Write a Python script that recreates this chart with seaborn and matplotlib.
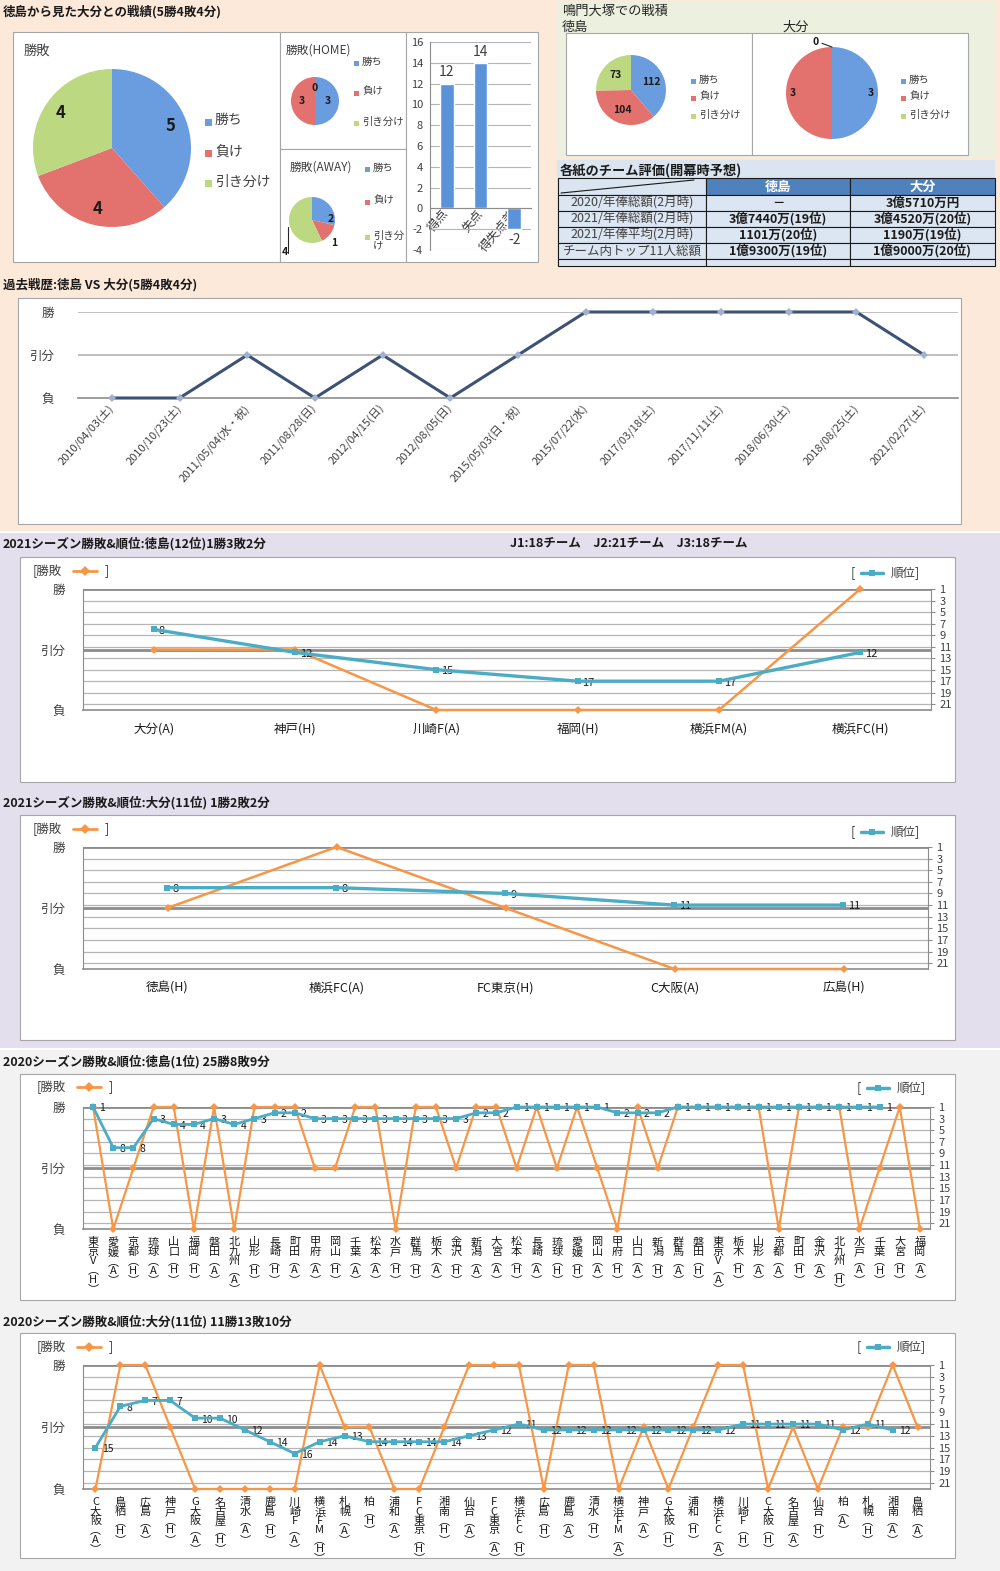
import numpy as np
import matplotlib
matplotlib.use("Agg")
import matplotlib.pyplot as plt
from matplotlib.patches import Rectangle
import seaborn as sns

sns.set_style("white")
plt.rcParams['font.family'] = ['Noto Sans CJK JP', 'DejaVu Sans']
plt.rcParams['axes.unicode_minus'] = False

W, H = 1000, 1571

# ---------------- data ----------------
RESULT_NAMES = ["勝ち", "負け", "引き分け"]
VS_TOTAL = [5, 4, 4]
VS_HOME = [3, 3, 0]
VS_AWAY = [2, 1, 4]

GOAL_NAMES = ["得点", "失点", "得失点差"]
GOAL_VALUES = [12, 14, -2]

NARUTO_TOKUSHIMA = [112, 104, 73]
NARUTO_OITA = [3, 3, 0]

EVAL_COLS = ["徳島", "大分"]
EVAL_ROWS = ["2020/年俸総額(2月時)", "2021/年俸総額(2月時)",
             "2021/年俸平均(2月時)", "チーム内トップ11人総額", ""]
EVAL_TOKUSHIMA = ["－", "3億7440万(19位)", "1101万(20位)", "1億9300万(19位)", ""]
EVAL_OITA = ["3億5710万円", "3億4520万(20位)", "1190万(19位)", "1億9000万(20位)", ""]

LEVELS = ["負", "引分", "勝"]          # 0 = 負, 1 = 引分, 2 = 勝

HISTORY_DATES = ["2010/04/03(土)", "2010/10/23(土)", "2011/05/04(水・祝)", "2011/08/28(日)",
                 "2012/04/15(日)", "2012/08/05(日)", "2015/05/03(日・祝)", "2015/07/22(水)",
                 "2017/03/18(土)", "2017/11/11(土)", "2018/06/30(土)", "2018/08/25(土)",
                 "2021/02/27(土)"]
HISTORY_RESULTS = [0, 0, 1, 0, 1, 0, 1, 2, 2, 2, 2, 2, 1]

T21_OPP = ["大分(A)", "神戸(H)", "川崎F(A)", "福岡(H)", "横浜FM(A)", "横浜FC(H)"]
T21_RES = [1, 1, 0, 0, 0, 2]
T21_RANK = [8, 12, 15, 17, 17, 12]

O21_OPP = ["徳島(H)", "横浜FC(A)", "FC東京(H)", "C大阪(A)", "広島(H)"]
O21_RES = [1, 2, 1, 0, 0]
O21_RANK = [8, 8, 9, 11, 11]

T20_OPP = ["東京V(H)", "愛媛(A)", "京都(H)", "琉球(A)", "山口(H)", "福岡(H)", "磐田(A)",
           "北九州(A)", "山形(H)", "長崎(H)", "町田(A)", "甲府(A)", "岡山(H)", "千葉(A)",
           "松本(A)", "水戸(H)", "群馬(H)", "栃木(A)", "金沢(H)", "新潟(A)", "大宮(A)",
           "松本(H)", "長崎(A)", "琉球(H)", "愛媛(H)", "岡山(A)", "甲府(H)", "山口(A)",
           "新潟(H)", "群馬(A)", "磐田(H)", "東京V(A)", "栃木(H)", "山形(A)", "京都(A)",
           "町田(H)", "金沢(A)", "北九州(H)", "水戸(A)", "千葉(H)", "大宮(H)", "福岡(A)"]
T20_RES = [2, 0, 1, 2, 2, 0, 2, 0, 2, 2, 2, 1, 1, 2, 2, 0, 2, 2, 1, 2, 2,
           1, 2, 1, 2, 1, 0, 2, 1, 2, 2, 2, 2, 2, 0, 2, 2, 2, 0, 1, 2, 0]
T20_RANK = [1, 8, 8, 3, 4, 4, 3, 4, 3, 2, 2, 3, 3, 3, 3, 3, 3, 3, 3, 2, 2,
            1, 1, 1, 1, 1, 2, 2, 2, 1, 1, 1, 1, 1, 1, 1, 1, 1, 1, 1, np.nan, np.nan]

O20_OPP = ["C大阪(A)", "鳥栖(H)", "広島(A)", "神戸(H)", "G大阪(A)", "名古屋(H)", "清水(A)",
           "鹿島(H)", "川崎F(A)", "横浜FM(H)", "札幌(A)", "柏(H)", "浦和(A)", "FC東京(H)",
           "湘南(H)", "仙台(A)", "FC東京(A)", "横浜FC(H)", "広島(H)", "鹿島(A)", "清水(H)",
           "横浜FM(A)", "神戸(A)", "G大阪(H)", "浦和(H)", "横浜FC(A)", "川崎F(H)", "C大阪(H)",
           "名古屋(A)", "仙台(H)", "柏(A)", "札幌(H)", "湘南(A)", "鳥栖(A)"]
O20_RES = [0, 2, 2, 1, 0, 0, 0, 0, 0, 2, 1, 1, 0, 0, 1, 2, 2,
           2, 0, 2, 2, 0, 1, 0, 1, 2, 2, 0, 1, 0, 1, 1, 2, 1]
O20_RANK = [15, 8, 7, 7, 10, 10, 12, 14, 16, 14, 13, 14, 14, 14, 14, 13, 12,
            11, 12, 12, 12, 12, 12, 12, 12, 12, 11, 11, 11, 11, 12, 11, 12, np.nan]

# ---------------- style ----------------
PIE_COLORS = ['#6a9ddf', '#e3716e', '#bcd880']
ORANGE = '#f79646'
BLUE = '#4bacc6'
GRID = '#b5b5b5'
DARK = '#8c8c8c'
TXT = '#404040'
RANK_TICKS = list(range(1, 22, 2))


def frac(x0, y0, x1, y1):
    return [x0 / W, 1 - y1 / H, (x1 - x0) / W, (y1 - y0) / H]


fig = plt.figure(figsize=(W / 100, H / 100), dpi=100)
base = fig.add_axes([0, 0, 1, 1])
base.set_xlim(0, W)
base.set_ylim(H, 0)
base.axis('off')

for x0, y0, x1, y1, c in [(0, 0, 1000, 531, '#fde9d9'), (557, 2, 995, 157, '#ebf1de'),
                          (557, 160, 995, 266, '#dbe5f1'), (0, 533, 1000, 1048, '#e4dfec'),
                          (0, 1050, 1000, 1571, '#f2f2f2')]:
    base.add_patch(Rectangle((x0, y0), x1 - x0, y1 - y0, facecolor=c, edgecolor='none'))

for x0, y0, x1, y1 in [(13, 32, 280, 262), (280, 32, 406, 149), (280, 149, 406, 262),
                       (406, 32, 538, 262), (566, 33, 752, 155), (752, 33, 968, 155),
                       (18, 298, 961, 524), (20, 557, 955, 782), (20, 815, 955, 1040),
                       (20, 1074, 955, 1300), (20, 1333, 955, 1558)]:
    base.add_patch(Rectangle((x0, y0), x1 - x0, y1 - y0, facecolor='white',
                             edgecolor='#a6a6a6', lw=0.8))

# section titles
for x, y, s in [(3, 12, "徳島から見た大分との戦績(5勝4敗4分)"),
                (3, 285, "過去戦歴:徳島 VS 大分(5勝4敗4分)"),
                (3, 544, "2021シーズン勝敗&順位:徳島(12位)1勝3敗2分"),
                (510, 544, "J1:18チーム　J2:21チーム　J3:18チーム"),
                (3, 803, "2021シーズン勝敗&順位:大分(11位) 1勝2敗2分"),
                (3, 1062, "2020シーズン勝敗&順位:徳島(1位) 25勝8敗9分"),
                (3, 1322, "2020シーズン勝敗&順位:大分(11位) 11勝13敗10分"),
                (560, 171, "各紙のチーム評価(開幕時予想)")]:
    base.text(x, y, s, fontsize=9.5 if y == 171 else 9, fontweight='bold', va='center', color='#1a1a1a')

for x, y, s in [(562, 11, "鳴門大塚での戦積"), (562, 27, "徳島"), (782, 27, "大分")]:
    base.text(x, y, s, fontsize=9.5, va='center', color='#262626')

for x, y, s, fs in [(24, 51, "勝敗", 9.5), (286, 50, "勝敗(HOME)", 8.5), (290, 167, "勝敗(AWAY)", 8.5)]:
    base.text(x, y, s, fontsize=fs, va='center', color=TXT)


# ---------------- pies ----------------
def draw_pie(cx, cy, r, values, dist, fs, span=1.0, label_xy=None):
    ax = fig.add_axes(frac(cx - r * span, cy - r * span, cx + r * span, cy + r * span))
    wedges, _ = ax.pie(values, colors=PIE_COLORS, startangle=90, counterclock=False,
                       wedgeprops=dict(linewidth=0))
    ax.set_xlim(-span, span)
    ax.set_ylim(-span, span)
    ax.set_aspect('equal')
    ax.axis('off')
    for i, (w, v) in enumerate(zip(wedges, values)):
        if label_xy is not None and label_xy[i] is not None:
            tx, ty = label_xy[i]
        else:
            ang = np.deg2rad((w.theta1 + w.theta2) / 2)
            tx, ty = dist * np.cos(ang), dist * np.sin(ang)
        ax.text(tx, ty, str(v), ha='center', va='center', fontsize=fs,
                fontweight='bold', color='#1a1a1a', clip_on=False)
    return ax


def pie_legend(x, ys, fs, sq, labels=RESULT_NAMES):
    for yy, lab, c in zip(ys, labels, PIE_COLORS):
        base.add_patch(Rectangle((x, yy - sq / 2), sq, sq, facecolor=c, edgecolor='none'))
        base.text(x + sq + 3, yy - 0.62 * fs * 1.39, lab, fontsize=fs, va='top', ha='left',
                  color=TXT, linespacing=1.0)


draw_pie(112, 148, 79, VS_TOTAL, 0.79, 12)
pie_legend(205, [122, 153, 183], 10, 7)

draw_pie(315, 101, 24, VS_HOME, 0.55, 7.5)
pie_legend(354, [63, 93, 123], 7.5, 5)

ax_away = draw_pie(312, 220, 23, VS_AWAY, 0.6, 7.5, span=1.0,
                   label_xy=[(0.83, 0.04), (0.96, -1.0), (-1.2, -1.38)])
ax_away.plot([-1.04, -1.04], [-0.3, -1.45], color='#262626', lw=0.8, clip_on=False)
pie_legend(365, [169, 202, 237], 7.5, 5, labels=["勝ち", "負け", "引き分\nけ"])

draw_pie(631, 90, 35, NARUTO_TOKUSHIMA, 0.63, 7.5)
pie_legend(691, [81, 98, 116], 7.5, 5)

ax_no = draw_pie(832, 93, 46, NARUTO_OITA, 0.85, 7.5, label_xy=[None, None, (-0.36, 1.1)])
ax_no.plot([-0.22, 0.0], [1.08, 1.0], color='#262626', lw=0.8, clip_on=False)
pie_legend(901, [81, 98, 116], 7.5, 5)

# ---------------- goals bar chart ----------------
axb = fig.add_axes(frac(430, 42, 531, 250))
axb.patch.set_visible(False)
sns.barplot(x=GOAL_NAMES, y=GOAL_VALUES, ax=axb, color='#5b93da', width=0.4,
            saturation=1, errorbar=None)
axb.bar_label(axb.containers[0], fontsize=10, padding=3, color=TXT)
axb.set_ylim(-4, 16)
axb.set_yticks(range(-4, 17, 2))
axb.set_xlim(-0.5, 2.5)
axb.yaxis.grid(True, color=GRID, lw=0.8)
axb.set_axisbelow(True)
for s in ['top', 'right']:
    axb.spines[s].set_visible(False)
axb.spines['left'].set_color(DARK)
axb.spines['bottom'].set_color(DARK)
axb.spines['bottom'].set_position(('data', 0))
axb.tick_params(axis='y', labelsize=8, length=3, color=DARK, labelcolor=TXT, pad=2)
axb.tick_params(axis='x', which='major', length=0, labelsize=9, labelcolor=TXT, pad=2)
axb.set_xticks([0.5, 1.5], minor=True)
axb.tick_params(axis='x', which='minor', length=4, color=DARK)
plt.setp(axb.get_xticklabels(), rotation=50, ha='right', va='center', rotation_mode='anchor')
axb.set_xlabel('')
axb.set_ylabel('')

# ---------------- table ----------------
cols = [558, 706, 850, 995]
rows = [178, 195, 211, 227, 243, 259, 266]
for ci in range(3):
    fc = '#dbe5f1' if ci == 0 else '#4f81bd'
    base.add_patch(Rectangle((cols[ci], rows[0]), cols[ci + 1] - cols[ci], rows[1] - rows[0],
                             facecolor=fc, edgecolor='#1a1a1a', lw=0.8))
base.plot([cols[0] + 3, cols[1] - 12], [rows[1] - 2, rows[0] + 2], color='#1a1a1a', lw=0.8)
for ci, name in enumerate(EVAL_COLS):
    base.text((cols[ci + 1] + cols[ci + 2]) / 2, (rows[0] + rows[1]) / 2, name, ha='center',
              va='center', fontsize=9.5, fontweight='bold', color='white')
for ri, (lab, a, b) in enumerate(zip(EVAL_ROWS, EVAL_TOKUSHIMA, EVAL_OITA)):
    y0, y1 = rows[ri + 1], rows[ri + 2]
    for ci in range(3):
        base.add_patch(Rectangle((cols[ci], y0), cols[ci + 1] - cols[ci], y1 - y0,
                                 facecolor='#dce6f2', edgecolor='#1a1a1a', lw=0.8))
    ym = (y0 + y1) / 2
    base.text((cols[0] + cols[1]) / 2, ym, lab, ha='center', va='center', fontsize=9, color=TXT)
    base.text((cols[1] + cols[2]) / 2, ym, a, ha='center', va='center', fontsize=9,
              fontweight='bold', color='#1a1a1a')
    base.text((cols[2] + cols[3]) / 2, ym, b, ha='center', va='center', fontsize=9,
              fontweight='bold', color='#1a1a1a')

# ---------------- past history ----------------
axh = fig.add_axes(frac(78, 312, 958, 398))
axh.patch.set_visible(False)
xs_h = np.arange(len(HISTORY_DATES))
axh.axhline(2, color=GRID, lw=1.2, zorder=0.5)
axh.axhline(1, color=GRID, lw=1.2, zorder=0.5)
sns.lineplot(x=xs_h, y=HISTORY_RESULTS, ax=axh, color='#3d5275', lw=2.2, marker='D',
             markersize=4, mfc='#9fb2cf', mec='#9fb2cf', mew=0, clip_on=False, zorder=3)
axh.set_xlim(-0.5, len(HISTORY_DATES) - 0.5)
axh.set_ylim(0, 2)
axh.set_yticks([0, 1, 2], LEVELS)
axh.set_xticks(xs_h, HISTORY_DATES)
plt.setp(axh.get_xticklabels(), rotation=48, ha='right', va='center', rotation_mode='anchor')
axh.set_xticks(np.arange(-0.5, len(HISTORY_DATES)), minor=True)
axh.tick_params(axis='x', which='major', length=0, labelsize=8, labelcolor=TXT, pad=6)
axh.tick_params(axis='x', which='minor', length=5, color=DARK)
axh.tick_params(axis='y', length=0, labelsize=9, labelcolor=TXT, pad=17)
for s in ['top', 'right', 'left']:
    axh.spines[s].set_visible(False)
axh.spines['bottom'].set_color(DARK)
axh.spines['bottom'].set_linewidth(1.2)
axh.set_xlabel('')
axh.set_ylabel('')


# ---------------- season charts ----------------
def vertical(label):
    return "\n".join(label.replace("(", "︵").replace(")", "︶"))


def series_legend(yl, yr, xl, xr):
    base.text(xl, yl, "[勝敗", fontsize=9, va='center', color=TXT)
    base.plot([xl + 40, xl + 52, xl + 64], [yl] * 3, color=ORANGE, lw=2, marker='D',
              markersize=5, markevery=[1], mew=0)
    base.text(xl + 72, yl, "]", fontsize=9, va='center', color=TXT)
    base.text(xr, yr, "[", fontsize=9, va='center', color=TXT)
    base.plot([xr + 10, xr + 21, xr + 32], [yr] * 3, color=BLUE, lw=2.5, marker='s',
              markersize=5, markevery=[1], mew=0)
    base.text(xr + 40, yr, "順位]", fontsize=9, va='center', color=TXT)


def season_chart(area, opps, res, ranks, stacked, ms_o, ms_b, lw_o, lw_b, data_fs, label_off):
    x0, y0, x1, y1 = area
    ax = fig.add_axes(frac(x0, y0, x1, y1))
    ax.patch.set_visible(False)
    n = len(opps)
    xs = np.arange(n)
    for r in RANK_TICKS:
        ax.axhline(2 * (22 - r) / 21, color=GRID, lw=0.9, zorder=0.5)
    ax.axhline(2, color=DARK, lw=2, zorder=0.6)
    ax.axhline(1, color=DARK, lw=2, zorder=0.6)
    sns.lineplot(x=xs, y=res, ax=ax, color=ORANGE, lw=lw_o, marker='D', markersize=ms_o,
                 mec=ORANGE, mew=0, clip_on=False, zorder=3)
    ax.set_ylim(0, 2)
    ax.set_yticks([0, 1, 2], LEVELS)
    ax.tick_params(axis='y', length=0, labelsize=9, labelcolor=TXT, pad=13)
    labels = [vertical(o) for o in opps] if stacked else opps
    ax.set_xticks(xs, labels)
    ax.set_xticks(np.arange(-0.5, n), minor=True)
    if stacked:
        plt.setp(ax.get_xticklabels(), linespacing=0.92)
        ax.tick_params(axis='x', which='major', length=0, labelsize=8, labelcolor='#1a1a1a', pad=6)
    else:
        ax.tick_params(axis='x', which='major', length=0, labelsize=9, labelcolor='#1a1a1a', pad=9)
    ax.tick_params(axis='x', which='minor', length=4, color=DARK)
    for s in ['top', 'right']:
        ax.spines[s].set_visible(False)
    ax.spines['left'].set_color(DARK)
    ax.spines['bottom'].set_color(DARK)
    ax.spines['bottom'].set_linewidth(1.2)
    ax.set_xlabel('')
    ax.set_ylabel('')

    ax_r = ax.twinx()
    sns.lineplot(x=xs, y=ranks, ax=ax_r, color=BLUE, lw=lw_b, marker='s', markersize=ms_b,
                 mec=BLUE, mew=0, clip_on=False, zorder=4)
    for xv, rv in zip(xs, ranks):
        if not np.isnan(rv):
            ax_r.annotate(str(int(rv)), (xv, rv), xytext=(label_off, -1), textcoords='offset points',
                          fontsize=data_fs, va='center', ha='left', color='#1a1a1a')
    ax_r.set_ylim(22, 1)
    ax_r.set_yticks(RANK_TICKS)
    ax_r.tick_params(axis='y', length=3, color=DARK, labelsize=8, labelcolor=TXT, pad=3)
    for s in ['top', 'left', 'bottom']:
        ax_r.spines[s].set_visible(False)
    ax_r.spines['right'].set_color(DARK)
    ax_r.set_ylabel('')
    ax.set_xlim(-0.5, n - 0.5)


season_chart((83, 589, 931, 710), T21_OPP, T21_RES, T21_RANK, False, 4.5, 5, 1.8, 2.4, 8, 3.5)
series_legend(571, 573, 33, 851)

season_chart((83, 847, 928, 969), O21_OPP, O21_RES, O21_RANK, False, 4.5, 5, 1.8, 2.4, 8, 3.5)
series_legend(829, 832, 33, 851)

season_chart((83, 1107, 930, 1229), T20_OPP, T20_RES, T20_RANK, True, 4, 4.5, 1.6, 2.0, 7.5, 4.5)
series_legend(1087, 1088, 37, 857)

season_chart((83, 1365, 930, 1489), O20_OPP, O20_RES, O20_RANK, True, 4, 4.5, 1.6, 2.0, 7.5, 4.5)
series_legend(1347, 1347, 37, 857)

fig.savefig("out.png", dpi=100)
